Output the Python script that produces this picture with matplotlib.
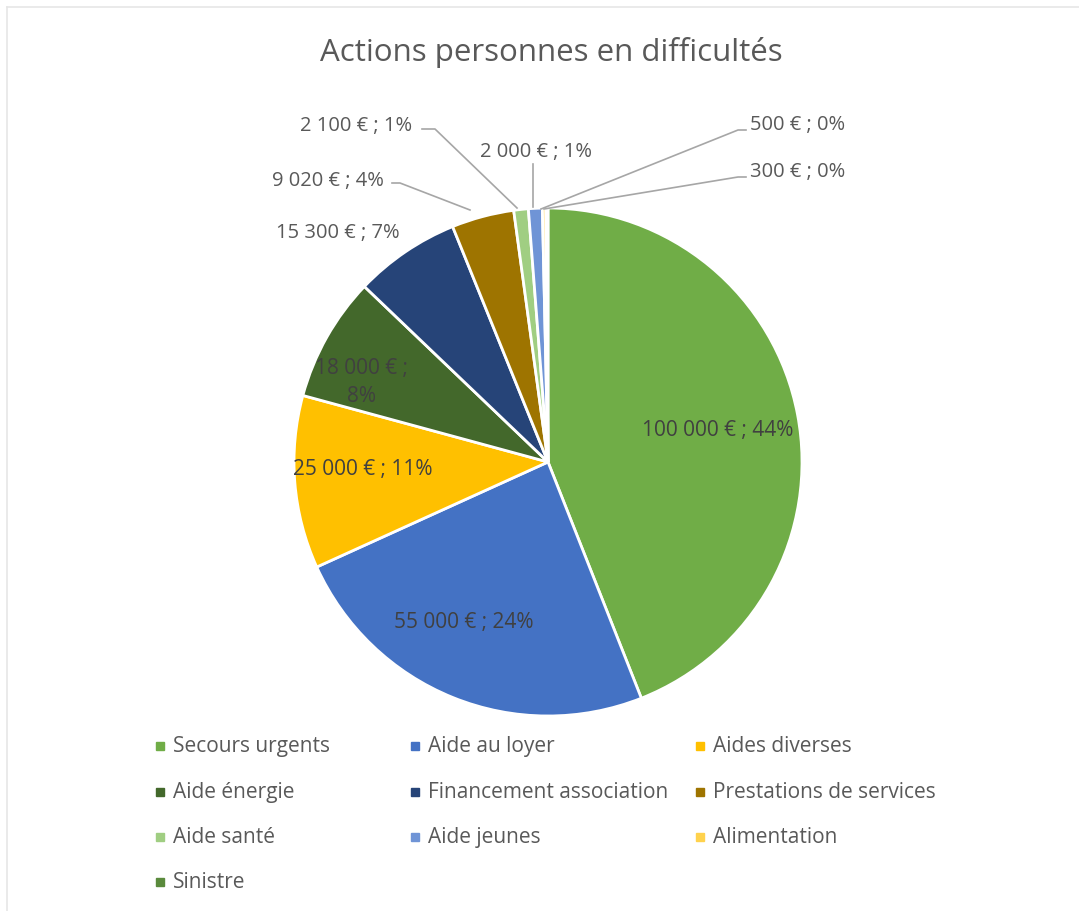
import matplotlib.pyplot as plt
from matplotlib.patches import Rectangle
from matplotlib.lines import Line2D
import numpy as np

categories = ["Secours urgents", "Aide au loyer", "Aides diverses", "Aide énergie",
              "Financement association", "Prestations de services", "Aide santé",
              "Aide jeunes", "Alimentation", "Sinistre"]
montants = [100000, 55000, 25000, 18000, 15300, 9020, 2100, 2000, 500, 300]
couleurs = ["#70AD47", "#4472C4", "#FFC000", "#43682B", "#264478", "#9E7400",
            "#A0CE82", "#6F94D6", "#FFD24D", "#5A8A3C"]

W, H = 1079, 912
FONT = "Open Sans"
GRIS = "#595959"

fig = plt.figure(figsize=(W / 100, H / 100), dpi=100)

# pie centre and radius in pixels
cx, cy, r = 548, 463, 254
ax = fig.add_axes([(cx - r) / W, (H - cy - r) / H, 2 * r / W, 2 * r / H])

wedges, _ = ax.pie(montants, colors=couleurs, startangle=90, counterclock=False,
                   radius=1, wedgeprops=dict(edgecolor="white", linewidth=2))
ax.set_xlim(-1, 1)
ax.set_ylim(-1, 1)
ax.set_aspect("equal")
ax.axis("off")


def fmt(v, total):
    s = f"{v:,}".replace(",", " ")
    return f"{s} € ; {round(100 * v / total)}%"


total = sum(montants)
labels = [fmt(v, total) for v in montants]
labels[3] = labels[3].replace("; ", ";\n")

# inside labels: (index, radial factor, angle offset)
inside = {0: (0.68, 0), 1: (0.71, -6), 2: (0.73, -2.5), 3: (0.80, 6)}
for i, (rf, da) in inside.items():
    w = wedges[i]
    a = np.deg2rad((w.theta1 + w.theta2) / 2 + da)
    ax.text(rf * np.cos(a), rf * np.sin(a), labels[i], ha="center", va="center",
            fontsize=15, color="#404040", family=FONT, linespacing=1.45)

# outside labels: text anchor, alignment and leader line points, in pixels
outside = {
    4: (400, 233, "right", []),
    5: (384, 181, "right", [(392, 184), (400, 184), (470, 211)]),
    6: (412, 126, "right", [(422, 130), (435, 130), (517, 209)]),
    7: (536, 152, "center", [(533, 165), (533, 208)]),
    8: (750, 125, "left", [(746, 131), (738, 131), (541, 210)]),
    9: (750, 172, "left", [(746, 178), (738, 178), (544, 210)]),
}
for i, (tx, ty, ha, pts) in outside.items():
    ax.text((tx - cx) / r, (cy - ty) / r, labels[i], ha=ha, va="center",
            fontsize=14.5, color=GRIS, family=FONT, clip_on=False)
    if pts:
        xs = [(p[0] - cx) / r for p in pts]
        ys = [(cy - p[1]) / r for p in pts]
        ax.add_line(Line2D(xs, ys, color="#A6A6A6", lw=1.2, clip_on=False))

fig.text(551 / W, 1 - 53 / H, "Actions personnes en difficultés", ha="center",
         va="center", fontsize=22.5, color=GRIS, family=FONT)

# legend laid out like the Excel one
col_x = [160, 415, 700]
row_y = [747, 793, 838, 883]
for k, (lab, col) in enumerate(zip(categories, couleurs)):
    px, py = col_x[k % 3], row_y[k // 3]
    fig.add_artist(Rectangle(((px - 4) / W, 1 - (py + 4) / H), 8 / W, 8 / H,
                             transform=fig.transFigure, color=col))
    fig.text((px + 13) / W, 1 - py / H, lab, ha="left", va="center",
             fontsize=15, color=GRIS, family=FONT)

# faint frame on the top and left edges
fig.add_artist(Line2D([7 / W, 7 / W], [0, 1 - 8 / H], transform=fig.transFigure,
                      color="#E6E6E6", lw=1.2))
fig.add_artist(Line2D([7 / W, 1], [1 - 8 / H, 1 - 8 / H], transform=fig.transFigure,
                      color="#E6E6E6", lw=1.2))

fig.savefig("out.png", dpi=100, facecolor="white")
